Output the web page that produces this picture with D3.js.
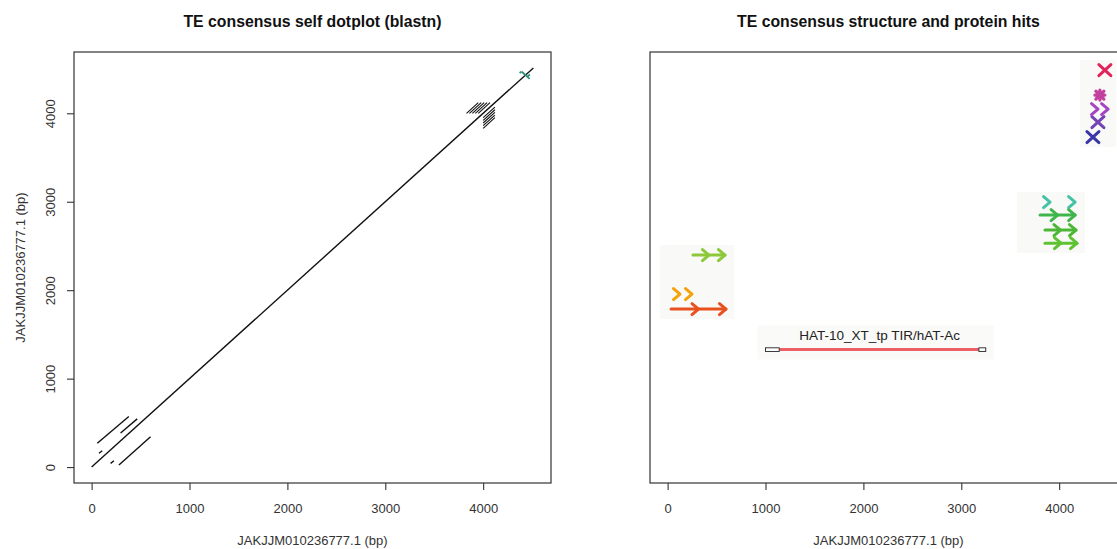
<!DOCTYPE html>
<html lang="en">
<head>
    <meta charset="UTF-8">
    <title>TE consensus plots</title>
    <script src="https://d3js.org/d3.v7.min.js"></script>
    <style>
        body { margin: 0; background: #fff; }
        text { font-family: "Liberation Sans", Arial, Helvetica, sans-serif; }
        .axis text { font-size: 13px; fill: #333; }
        .axis line { stroke: #333; stroke-width: 1.1; }
        .chart-title { font-size: 15.8px; font-weight: bold; fill: #111; text-anchor: middle; }
        .axis-title { font-size: 13px; fill: #333; text-anchor: middle; }
    </style>
</head>
<body>
<svg id="chart" width="1117" height="549"></svg>
<script>
    // ---- data ----
    var seqName = "JAKJJM010236777.1";
    var seqLen = 4513;
    var xTicks = [0, 1000, 2000, 3000, 4000];

    // blastn self hits: start/end on x and y (bp)
    var dotX1 = [0, 58, 296, 75, 194, 279,
                 3950, 3920, 3890, 3860, 3830,
                 4000, 4000, 4000, 4000, 4000];
    var dotY1 = [0, 269, 386, 156, 42, 23,
                 4000, 4000, 4000, 4000, 4000,
                 3950, 3920, 3890, 3860, 3830];
    var dotX2 = [4513, 380, 466, 109, 228, 602,
                 4070, 4040, 4010, 3980, 3950,
                 4120, 4120, 4120, 4120, 4120];
    var dotY2 = [4513, 572, 545, 185, 72, 344,
                 4120, 4120, 4120, 4120, 4120,
                 4070, 4040, 4010, 3980, 3950];
    // reverse-strand hits (teal)
    var revX1 = [4395, 4372, 4455];
    var revY1 = [4470, 4455, 4420];
    var revX2 = [4475, 4392, 4478];
    var revY2 = [4390, 4472, 4438];

    // TE annotation
    var teName = "HAT-10_XT_tp TIR/hAT-Ac";
    var teStart = 1000, teEnd = 3250, teTirLen = 140, teTrack = 1328;

    // protein hits
    var hitStart = [35, 4, 259, 3651, 3805, 3855, 3855, 4345, 4396, 4294, 4416, 4467];
    var hitEnd   = [596, 249, 586, 4163, 4163, 4172, 4182, 4345, 4396, 4500, 4416, 4467];
    var hitTrack = [1786, 1956, 2397, 2996, 2849, 2680, 2532, 3731, 3900, 4047, 4206, 4488];
    var hitShape = ["arrow", "chev", "arrow", "chev", "arrow", "arrow", "arrow", "cross", "cross", "chev", "star", "cross"];
    var hitHeads = [2, 2, 2, 2, 2, 2, 2, 1, 1, 2, 1, 1];
    var hitGroup = [0, 0, 0, 1, 1, 1, 1, 2, 2, 2, 2, 2];
    var hitColor = ["#e8501e", "#f4a20c", "#8cc83a", "#45c2a6", "#3fb54c", "#4cb636", "#5ec232",
                    "#3a36a8", "#7443b4", "#a545c4", "#c2409e", "#e1245a"];

    // ---- layout ----
    var svg = d3.select("#chart");
    var plotTop = 52, plotBottom = 483;
    var panels = [{ left: 74, right: 551 }, { left: 650, right: 1127 }];
    var pad = 180;

    var y = d3.scaleLinear().domain([-pad, seqLen + pad]).range([plotBottom, plotTop]);

    function xScaleFor(p) {
        return d3.scaleLinear().domain([-pad, seqLen + pad]).range([p.left, p.right]);
    }

    function drawFrame(p, x, title, withY) {
        svg.append("g")
            .attr("class", "axis")
            .attr("transform", "translate(0," + plotBottom + ")")
            .call(d3.axisBottom(x).tickValues(xTicks).tickSize(7).tickPadding(14).tickFormat(d3.format("d")))
            .call(g => g.select(".domain").remove());

        if (withY) {
            var ya = svg.append("g")
                .attr("class", "axis")
                .attr("transform", "translate(" + p.left + ",0)")
                .call(d3.axisLeft(y).tickValues(xTicks).tickSize(7).tickFormat(d3.format("d")))
                .call(g => g.select(".domain").remove());
            ya.selectAll("text")
                .attr("x", null).attr("dy", "0.35em")
                .attr("text-anchor", "middle")
                .attr("transform", "translate(-24,0) rotate(-90)");
            svg.append("text")
                .attr("class", "axis-title")
                .attr("transform", "translate(25," + (plotTop + plotBottom) / 2 + ") rotate(-90)")
                .text(seqName + " (bp)");
        }

        svg.append("rect")
            .attr("x", p.left).attr("y", plotTop)
            .attr("width", p.right - p.left).attr("height", plotBottom - plotTop)
            .attr("fill", "none").attr("stroke", "#333").attr("stroke-width", 1.2);

        svg.append("text")
            .attr("class", "chart-title")
            .attr("x", (p.left + p.right) / 2).attr("y", 27)
            .text(title);

        svg.append("text")
            .attr("class", "axis-title")
            .attr("x", (p.left + p.right) / 2).attr("y", 545)
            .text(seqName + " (bp)");
    }

    // ---- left: self dotplot ----
    var xL = xScaleFor(panels[0]);
    var dots = dotX1.map((d, i) => ({ x1: d, y1: dotY1[i], x2: dotX2[i], y2: dotY2[i] }));
    var revs = revX1.map((d, i) => ({ x1: d, y1: revY1[i], x2: revX2[i], y2: revY2[i] }));

    svg.append("g").selectAll("line")
        .data(dots)
        .enter().append("line")
        .attr("x1", d => xL(d.x1)).attr("y1", d => y(d.y1))
        .attr("x2", d => xL(d.x2)).attr("y2", d => y(d.y2))
        .attr("stroke", "#111").attr("stroke-width", (d, i) => i > 5 ? 1.1 : 1.4);

    svg.append("g").selectAll("line")
        .data(revs)
        .enter().append("line")
        .attr("x1", d => xL(d.x1)).attr("y1", d => y(d.y1))
        .attr("x2", d => xL(d.x2)).attr("y2", d => y(d.y2))
        .attr("stroke", "#2f8f7c").attr("stroke-width", 1.8);

    drawFrame(panels[0], xL, "TE consensus self dotplot (blastn)", true);

    // ---- right: structure and protein hits ----
    var xR = xScaleFor(panels[1]);
    var hits = hitStart.map((d, i) => ({
        s: d, e: hitEnd[i], t: hitTrack[i], shape: hitShape[i],
        n: hitHeads[i], g: hitGroup[i], c: hitColor[i]
    }));

    // very faint background behind each hit cluster
    var groups = d3.groups(hits, d => d.g);
    svg.append("g").selectAll("rect")
        .data(groups)
        .enter().append("rect")
        .attr("x", d => d3.min(d[1], h => xR(h.s)) - 8)
        .attr("y", d => d3.min(d[1], h => y(h.t)) - 10)
        .attr("width", d => d3.max(d[1], h => xR(h.e)) - d3.min(d[1], h => xR(h.s)) + 16)
        .attr("height", d => d3.max(d[1], h => y(h.t)) - d3.min(d[1], h => y(h.t)) + 20)
        .attr("fill", "#f9f9f7");

    var hg = svg.append("g");
    hits.forEach(function(h) {
        var x1 = xR(h.s), x2 = xR(h.e), yy = y(h.t);
        var g = hg.append("g")
            .attr("stroke", h.c).attr("fill", "none")
            .attr("stroke-width", 3).attr("stroke-linecap", "round").attr("stroke-linejoin", "round");
        if (h.shape === "arrow") {
            g.append("line").attr("x1", x1).attr("y1", yy).attr("x2", x2).attr("y2", yy);
        }
        if (h.shape === "arrow" || h.shape === "chev") {
            var step = (x2 - x1) / h.n;
            for (var k = 0; k < h.n; k++) {
                var tip = x2 - k * step;
                g.append("path").attr("d", "M" + (tip - 6.5) + "," + (yy - 5.5) + "L" + tip + "," + yy + "L" + (tip - 6.5) + "," + (yy + 5.5));
            }
        }
        if (h.shape === "cross") {
            g.append("path").attr("d", "M" + (x1 - 6) + "," + (yy - 5.5) + "L" + (x1 + 6) + "," + (yy + 5.5)
                + "M" + (x1 - 6) + "," + (yy + 5.5) + "L" + (x1 + 6) + "," + (yy - 5.5));
        }
        if (h.shape === "star") {
            g.attr("stroke-width", 3.2);
            g.append("path").attr("d", "M" + (x1 - 5) + "," + yy + "L" + (x1 + 5) + "," + yy
                + "M" + x1 + "," + (yy - 5) + "L" + x1 + "," + (yy + 5)
                + "M" + (x1 - 4) + "," + (yy - 4) + "L" + (x1 + 4) + "," + (yy + 4)
                + "M" + (x1 - 4) + "," + (yy + 4) + "L" + (x1 + 4) + "," + (yy - 4));
        }
    });

    // TE element with TIRs
    var te = svg.append("g");
    te.append("rect")
        .attr("x", xR(teStart) - 8).attr("y", y(teTrack) - 24)
        .attr("width", xR(teEnd) - xR(teStart) + 16).attr("height", 34)
        .attr("fill", "#fafaf8");
    te.append("line")
        .attr("x1", xR(teStart + teTirLen)).attr("x2", xR(teEnd - teTirLen / 2))
        .attr("y1", y(teTrack)).attr("y2", y(teTrack))
        .attr("stroke", "#ec5f66").attr("stroke-width", 3);
    te.append("rect")
        .attr("x", xR(teStart)).attr("y", y(teTrack) - 1.8)
        .attr("width", xR(teStart + teTirLen) - xR(teStart)).attr("height", 3.6)
        .attr("fill", "#fff").attr("stroke", "#222").attr("stroke-width", 0.9);
    te.append("rect")
        .attr("x", xR(teEnd - teTirLen / 2)).attr("y", y(teTrack) - 1.8)
        .attr("width", xR(teEnd) - xR(teEnd - teTirLen / 2)).attr("height", 3.6)
        .attr("fill", "#fff").attr("stroke", "#222").attr("stroke-width", 0.9);
    te.append("text")
        .attr("x", xR((teStart + teEnd) / 2) + 4).attr("y", y(teTrack) - 10)
        .attr("text-anchor", "middle").attr("font-size", "13.5px").attr("fill", "#222")
        .text(teName);

    drawFrame(panels[1], xR, "TE consensus structure and protein hits", false);
</script>
</body>
</html>
